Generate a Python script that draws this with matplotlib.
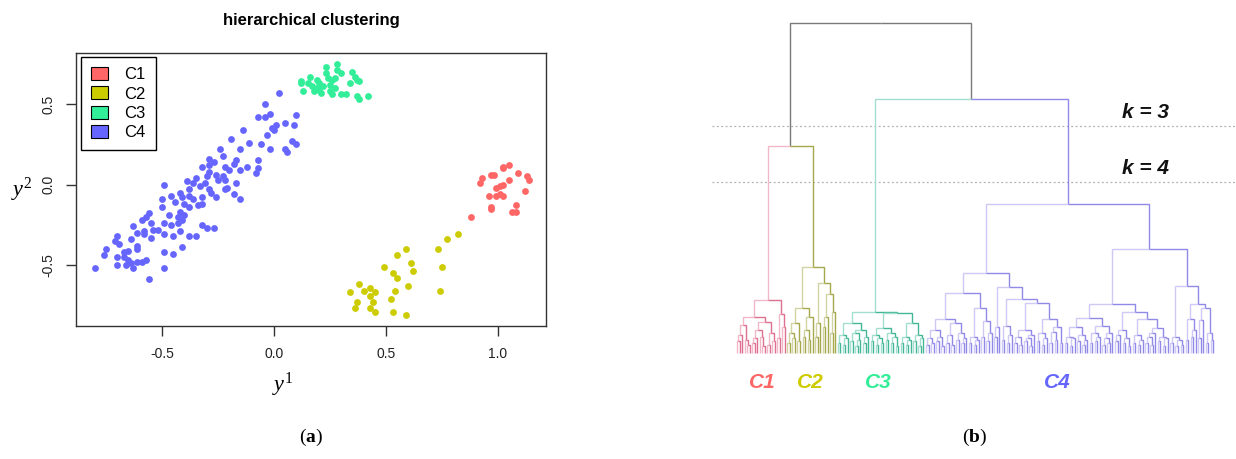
import numpy as np
import matplotlib
matplotlib.use("Agg")
import matplotlib.pyplot as plt
from matplotlib.patches import Patch

# ---------------- data: scatter (panel a) ----------------
cluster_names = ["C1", "C2", "C3", "C4"]

c1_x = [1.02, 1.05, 1.02, 0.97, 0.98, 1.09, 0.93, 0.92, 1.05, 1.13, 1.14, 0.99, 1.02,
        1.01, 0.96, 0.99, 1.01, 1.02, 1.12, 0.97, 0.97, 1.08, 1.08, 1.06, 0.88]
c1_y = [0.11, 0.12, 0.10, 0.06, 0.06, 0.07, 0.04, 0.01, 0.03, 0.05, 0.03, -0.02, 0.00,
        -0.01, -0.07, -0.07, -0.06, -0.07, -0.04, -0.14, -0.15, -0.13, -0.17, -0.17, -0.20]

c2_x = [0.82, 0.77, 0.73, 0.75, 0.74, 0.59, 0.55, 0.49, 0.61, 0.62, 0.53, 0.55, 0.60, 0.54,
        0.52, 0.38, 0.34, 0.40, 0.43, 0.45, 0.43, 0.44, 0.37, 0.36, 0.43, 0.45, 0.53, 0.59]
c2_y = [-0.31, -0.34, -0.40, -0.51, -0.66, -0.40, -0.44, -0.51, -0.49, -0.54, -0.55, -0.58,
        -0.63, -0.66, -0.71, -0.62, -0.67, -0.66, -0.64, -0.67, -0.69, -0.73, -0.73, -0.77,
        -0.77, -0.79, -0.79, -0.81]

c3_x = [0.28, 0.28, 0.23, 0.30, 0.23, 0.35, 0.36, 0.37, 0.16, 0.12, 0.12, 0.15, 0.19, 0.20,
        0.24, 0.26, 0.27, 0.25, 0.22, 0.19, 0.18, 0.13, 0.21, 0.25, 0.26, 0.30, 0.32, 0.34,
        0.38, 0.37, 0.38, 0.42, 0.20, 0.17, 0.27]
c3_y = [0.75, 0.71, 0.73, 0.69, 0.69, 0.70, 0.67, 0.65, 0.67, 0.64, 0.63, 0.63, 0.65, 0.63,
        0.66, 0.65, 0.66, 0.62, 0.61, 0.60, 0.58, 0.58, 0.57, 0.58, 0.56, 0.56, 0.56, 0.63,
        0.64, 0.55, 0.53, 0.55, 0.59, 0.61, 0.60]

c4_xy = [
    (-0.49, 0.00), (-0.50, -0.09), (-0.46, -0.07), (-0.50, -0.14), (-0.47, -0.19),
    (-0.49, -0.24), (-0.46, -0.25), (-0.56, -0.18), (-0.57, -0.20), (-0.59, -0.22),
    (-0.55, -0.24), (-0.54, -0.28), (-0.58, -0.29), (-0.63, -0.26), (-0.61, -0.30),
    (-0.58, -0.31), (-0.55, -0.33), (-0.52, -0.28), (-0.49, -0.31), (-0.45, -0.32),
    (-0.70, -0.32), (-0.71, -0.35), (-0.69, -0.37), (-0.64, -0.34), (-0.61, -0.38),
    (-0.61, -0.40), (-0.65, -0.41), (-0.67, -0.42), (-0.67, -0.45), (-0.75, -0.40),
    (-0.76, -0.44), (-0.70, -0.45), (-0.65, -0.47), (-0.64, -0.49), (-0.61, -0.48),
    (-0.59, -0.48), (-0.57, -0.47), (-0.66, -0.50), (-0.70, -0.50), (-0.63, -0.52),
    (-0.49, -0.42), (-0.45, -0.43), (-0.41, -0.39), (-0.80, -0.52), (-0.49, -0.52),
    (-0.56, -0.59),
    (-0.19, 0.28), (-0.11, 0.26), (-0.06, 0.25), (-0.02, 0.22), (0.08, 0.27), (0.10, 0.25),
    (-0.24, 0.22), (-0.23, 0.18), (-0.15, 0.22), (0.05, 0.22), (0.06, 0.20), (-0.29, 0.16),
    (-0.32, 0.11), (-0.29, 0.12), (-0.27, 0.14), (-0.17, 0.15), (-0.18, 0.13), (-0.22, 0.11),
    (-0.20, 0.09), (-0.15, 0.09), (-0.12, 0.11), (-0.07, 0.15), (-0.07, 0.10), (-0.08, 0.07),
    (-0.29, 0.08), (-0.30, 0.05), (-0.26, 0.06), (-0.25, 0.03), (-0.23, 0.05), (-0.22, 0.03),
    (-0.35, 0.04), (-0.36, 0.01), (-0.39, 0.02), (-0.38, -0.03), (-0.33, -0.01), (-0.31, 0.01),
    (-0.29, -0.03), (-0.28, -0.05), (-0.17, 0.01), (-0.21, -0.02), (-0.22, -0.03), (-0.18, -0.06),
    (-0.15, -0.09), (-0.26, -0.08), (-0.32, -0.08), (-0.42, -0.05), (-0.41, -0.08), (-0.38, -0.07),
    (-0.36, -0.09), (-0.40, -0.12), (-0.44, -0.11), (-0.42, -0.17), (-0.43, -0.20), (-0.40, -0.19),
    (-0.38, -0.14), (-0.34, -0.13), (-0.32, -0.12), (-0.41, -0.22), (-0.43, -0.24), (-0.32, -0.25),
    (-0.30, -0.27), (-0.27, -0.27), (-0.42, -0.29), (-0.38, -0.32), (-0.35, -0.32),
    (0.02, 0.57), (-0.04, 0.50), (-0.07, 0.42), (-0.04, 0.42), (-0.02, 0.44), (0.10, 0.43),
    (-0.14, 0.34), (-0.01, 0.35), (0.00, 0.34), (0.01, 0.37), (0.05, 0.38), (0.09, 0.37),
    (-0.03, 0.31),
]

x_ticks = [-0.5, 0.0, 0.5, 1.0]
x_tick_labels = ["-0.5", "0.0", "0.5", "1.0"]
y_ticks = [-0.5, 0.0, 0.5]
y_tick_labels = ["-0.5", "0.0", "0.5"]

# ---------------- data: dendrogram (panel b) ----------------
# merge height between consecutive leaves (leaf order left to right)
gaps_c1 = [0.35, 0.55, 0.86, 0.40, 0.25, 1.09, 0.30, 0.45, 0.70, 0.50, 0.20, 0.95, 0.25,
           0.60, 0.35, 1.60, 0.45, 1.18, 0.80]
gap_c1_c2 = 6.27
gaps_c2 = [0.30, 0.60, 0.45, 0.90, 0.35, 1.36, 0.50, 0.70, 0.40, 1.10, 2.62, 0.50, 0.90,
           2.11, 0.80, 1.10, 1.79, 0.60, 1.24]
gap_c2_c3 = 10.0
gaps_c3 = [0.30, 0.55, 0.25, 0.45, 0.92, 0.35, 0.60, 0.20, 0.40, 0.70, 0.30, 0.50, 1.25,
           0.35, 0.55, 0.25, 0.45, 0.30, 0.75, 0.40, 0.60, 0.30, 0.50, 0.20, 1.20, 0.30,
           0.50, 0.25, 0.40, 0.92, 0.35, 0.55, 0.20, 0.45]
gap_c3_c4 = 7.70
gaps_c4 = [0.25, 0.45, 0.30, 0.70, 0.35, 0.50, 0.20, 1.02, 0.30, 0.55, 0.25, 0.90, 0.40,
           0.60, 0.30, 0.45, 1.82, 0.30, 0.50, 0.25, 0.40, 1.35, 0.50, 0.98, 0.35, 0.60,
           2.42, 0.50, 0.80, 1.99, 0.40, 0.82, 0.30, 0.55, 1.63, 0.30, 0.50, 0.25, 0.70,
           0.35, 0.45, 0.20, 0.55, 1.52, 0.35, 0.60, 0.25, 0.45, 1.02, 0.30, 0.65, 0.40,
           0.80, 0.30, 4.52, 0.30, 0.50, 0.20, 0.45, 0.80, 0.35, 0.55, 0.25, 0.40, 1.05,
           0.30, 0.60, 0.35, 0.50, 0.83, 0.25, 0.45, 0.30, 0.60, 1.50, 0.35, 0.55, 0.70,
           0.30, 0.45, 0.20, 1.23, 0.30, 0.55, 0.25, 0.40, 1.02, 0.30, 0.50, 0.25, 0.60,
           0.77, 0.35, 0.50, 0.20, 0.45, 3.14, 0.30, 0.50, 0.20, 0.40, 0.25, 2.03, 0.40,
           1.02, 0.50, 0.70, 1.48, 0.45, 1.00, 1.35, 0.30, 0.60, 0.40]
k3_height = 6.88
k4_height = 5.18

# ---------------- styling ----------------
point_colors = ["#FF6666", "#CCCC00", "#33EE99", "#6666FF"]
dendro_light = ["#f2b8c8", "#d2d3a2", "#a3dece", "#cfc9f6"]
dendro_dark = ["#e07090", "#a6a84c", "#43b696", "#9189e8"]
mixed_color = "#7a7a7a"

W, H = 1236, 459
plt.rcParams["font.family"] = ["Liberation Sans", "DejaVu Sans"]
plt.rcParams["mathtext.fontset"] = "custom"
plt.rcParams["mathtext.rm"] = "Liberation Serif"
plt.rcParams["mathtext.it"] = "Liberation Serif:italic"
plt.rcParams["mathtext.bf"] = "Liberation Serif:bold"

fig = plt.figure(figsize=(W / 100, H / 100), dpi=100)


def fx(px):
    return px / W


def fy(py):
    return 1 - py / H


# ---------------- panel (a) ----------------
ax = fig.add_axes([fx(76), fy(326), (546 - 76) / W, (326 - 53) / H])
c4_x = [p[0] for p in c4_xy]
c4_y = [p[1] for p in c4_xy]
series = [(c1_x, c1_y), (c2_x, c2_y), (c3_x, c3_y), (c4_x, c4_y)]
for (xs, ys), col in zip(series, point_colors):
    ax.scatter(xs, ys, s=24, color=col, linewidths=0, zorder=3)

ax.set_xlim(-0.884, 1.214)
ax.set_ylim(-0.879, 0.817)
ax.set_xticks(x_ticks)
ax.set_xticklabels(x_tick_labels)
ax.set_yticks(y_ticks)
ax.set_yticklabels(y_tick_labels, rotation=90, va="center")
ax.tick_params(axis="both", length=7, width=1, color="#333333", labelsize=10,
               labelcolor="#222222", pad=8)
for sp in ax.spines.values():
    sp.set_color("#333333")
    sp.set_linewidth(1.0)

handles = [Patch(facecolor=c, edgecolor="black", linewidth=0.8) for c in point_colors]
leg = ax.legend(handles, cluster_names, loc="upper left", bbox_to_anchor=(0.0106, 0.985),
                borderaxespad=0, fontsize=12, handlelength=1.0, handleheight=0.8,
                handletextpad=1.0, labelspacing=0.25, borderpad=0.6, fancybox=False,
                framealpha=1, edgecolor="black")
leg.get_frame().set_linewidth(1.0)

fig.text(fx(311), fy(21), "hierarchical clustering", ha="center", va="center",
         fontsize=12, fontweight="bold")
fig.text(fx(283), fy(385), r"$y^1$", ha="center", va="center", fontsize=16)
fig.text(fx(22), fy(190), r"$y^2$", ha="center", va="center", fontsize=16)
fig.text(fx(311), fy(437), r"($\mathbf{a}$)", ha="center", va="center", fontsize=14,
         family="Liberation Serif")

# ---------------- panel (b) ----------------
gaps = np.array(gaps_c1 + [gap_c1_c2] + gaps_c2 + [gap_c2_c3] + gaps_c3 + [gap_c3_c4] + gaps_c4)
sizes = [len(gaps_c1) + 1, len(gaps_c2) + 1, len(gaps_c3) + 1, len(gaps_c4) + 1]
leaf_cluster = np.repeat(np.arange(4), sizes)
n_leaves = len(leaf_cluster)


def build(lo, hi):
    if lo == hi:
        return {"x": float(lo), "h": 0.0, "cl": {int(leaf_cluster[lo])}, "kids": []}
    k = lo + int(np.argmax(gaps[lo:hi]))
    left = build(lo, k)
    right = build(k + 1, hi)
    return {"x": (left["x"] + right["x"]) / 2, "h": float(gaps[k]),
            "cl": left["cl"] | right["cl"], "kids": [left, right]}


root = build(0, n_leaves - 1)

# pixel anchors for the dendrogram area
px_left, px_right = 737.0, 1213.3
py_base, py_top = 353.0, 23.0
ax_px0, ax_px1 = 700.0, 1236.0
sx = (n_leaves - 1) / (px_right - px_left)
sy = root["h"] / (py_base - py_top)

ax2 = fig.add_axes([fx(ax_px0), 0, (ax_px1 - ax_px0) / W, 1])
ax2.set_xlim((ax_px0 - px_left) * sx, (ax_px1 - px_left) * sx)
ax2.set_ylim((py_base - H) * sy, py_base * sy)
ax2.axis("off")

# dashed k lines
for hk in (k3_height, k4_height):
    ax2.plot([(712 - px_left) * sx, (ax_px1 - px_left) * sx], [hk, hk],
             color="#b0b0b0", lw=0.9, ls=(0, (1.5, 2.0)), zorder=1)


def draw(node):
    for i, ch in enumerate(node["kids"]):
        if len(ch["cl"]) == 1:
            c = next(iter(ch["cl"]))
            col = dendro_dark[c] if i == 1 else dendro_light[c]
        else:
            col = mixed_color
        ax2.plot([ch["x"], ch["x"], node["x"]], [ch["h"], node["h"], node["h"]],
                 color=col, lw=1.0, solid_capstyle="butt", solid_joinstyle="miter", zorder=2)
        draw(ch)


draw(root)

label_px = [762, 810, 878, 1057]
for name, px, col in zip(cluster_names, label_px, point_colors):
    fig.text(fx(px), fy(382), name, ha="center", va="center", fontsize=15,
             fontweight="bold", fontstyle="italic", color=col)

fig.text(fx(1146), fy(112), "k = 3", ha="center", va="center", fontsize=15,
         fontweight="bold", fontstyle="italic", color="#111111")
fig.text(fx(1146), fy(168), "k = 4", ha="center", va="center", fontsize=15,
         fontweight="bold", fontstyle="italic", color="#111111")

fig.text(fx(975), fy(437), r"($\mathbf{b}$)", ha="center", va="center", fontsize=14,
         family="Liberation Serif")

fig.savefig("out.png", dpi=100)
